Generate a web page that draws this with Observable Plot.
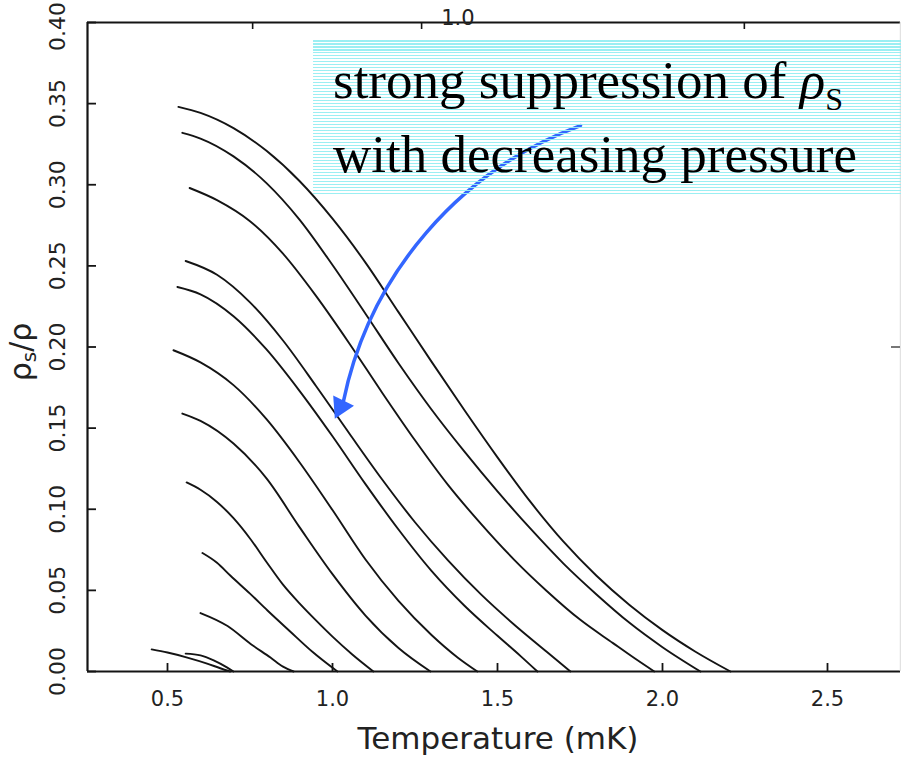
<!DOCTYPE html>
<html><head><meta charset="utf-8">
<script src="https://cdn.jsdelivr.net/npm/d3@7"></script>
<script src="https://cdn.jsdelivr.net/npm/@observablehq/plot@0.6"></script>
<style>
html,body{margin:0;padding:0;background:#fff;}
#wrap{position:relative;width:901px;height:757px;overflow:hidden;}
#note{position:absolute;left:313px;top:40px;width:588px;height:156px;
 background:repeating-linear-gradient(to bottom, rgba(150,238,242,0.95) 0px, rgba(150,238,242,0.95) 1.5px, transparent 1.5px, transparent 3px);
 font-family:"Liberation Serif","Times New Roman",serif;font-size:53px;color:#000;}
#note .ln{position:absolute;left:20px;line-height:48px;white-space:nowrap;}
#note .sub{font-size:32px;vertical-align:-12px;}
</style>
</head><body>
<div id="wrap"><div id="chart"></div>
<div id="note"><div class="ln" style="top:16px">strong suppression of <i>ρ</i><span class="sub">S</span></div>
<div class="ln" style="top:90px">with decreasing pressure</div></div>
</div>
<script>
// tick values
const xTicks = [0.5, 1.0, 1.5, 2.0, 2.5];
const yTicks = [0.00, 0.05, 0.10, 0.15, 0.20, 0.25, 0.30, 0.35, 0.40];
const xLabel = "Temperature (mK)";
const topTicks = [0.758, 1.27, 2.248];   // ticks of the cropped upper panel
const topLabel = [{x: 1.38, text: "1.0"}];

// curves: [temperature (mK), rho_s/rho], highest pressure first
const curve1 = [[0.533,0.348],[0.6,0.3443],[0.7,0.3349],[0.8,0.3209],[0.9,0.3023],[1.0,0.2791],[1.1,0.252],[1.2,0.2215],[1.3,0.191],[1.4,0.161],[1.5,0.132],[1.6,0.1045],[1.7,0.080],[1.8,0.059],[1.9,0.041],[2.0,0.0255],[2.1,0.0122],[2.206,0]];
const curve2 = [[0.545,0.332],[0.6,0.3285],[0.7,0.3175],[0.8,0.301],[0.9,0.2785],[1.0,0.2505],[1.1,0.2205],[1.2,0.190],[1.3,0.1615],[1.4,0.1355],[1.5,0.111],[1.6,0.088],[1.7,0.0665],[1.8,0.0475],[1.9,0.030],[2.0,0.015],[2.115,0]];
const curve3 = [[0.567,0.298],[0.65,0.2905],[0.75,0.2775],[0.85,0.2575],[0.95,0.2315],[1.05,0.2025],[1.15,0.172],[1.25,0.1425],[1.35,0.115],[1.45,0.091],[1.55,0.069],[1.65,0.0495],[1.75,0.032],[1.85,0.0175],[1.92,0.0075],[1.975,0]];
const curve4 = [[0.555,0.253],[0.65,0.2445],[0.75,0.2275],[0.85,0.204],[0.95,0.176],[1.05,0.147],[1.15,0.1185],[1.25,0.092],[1.35,0.0685],[1.45,0.0475],[1.55,0.029],[1.65,0.012],[1.721,0]];
const curve5 = [[0.530,0.237],[0.6,0.2325],[0.7,0.219],[0.8,0.1985],[0.9,0.173],[1.0,0.145],[1.1,0.1155],[1.2,0.0875],[1.3,0.062],[1.4,0.0405],[1.5,0.022],[1.57,0.0095],[1.621,0]];
const curve6 = [[0.518,0.198],[0.6,0.1905],[0.7,0.1765],[0.8,0.1555],[0.9,0.129],[1.0,0.0995],[1.1,0.069],[1.2,0.0435],[1.3,0.0225],[1.38,0.0085],[1.439,0]];
const curve7 = [[0.545,0.159],[0.6,0.1545],[0.7,0.1405],[0.8,0.119],[0.9,0.089],[1.0,0.060],[1.1,0.0345],[1.2,0.0145],[1.297,0]];
const curve8 = [[0.558,0.1165],[0.6,0.112],[0.65,0.1045],[0.7,0.0945],[0.75,0.082],[0.8,0.0675],[0.85,0.0535],[0.9,0.042],[0.95,0.0315],[1.0,0.0215],[1.06,0.0105],[1.124,0]];
const curve9 = [[0.606,0.073],[0.65,0.067],[0.691,0.059],[0.75,0.048],[0.803,0.0376],[0.87,0.025],[0.94,0.012],[1.015,0]];
const curve10 = [[0.600,0.036],[0.682,0.028],[0.752,0.017],[0.812,0.0086],[0.85,0.003],[0.882,0]];
const curve11 = [[0.452,0.0136],[0.50,0.0117],[0.56,0.0086],[0.62,0.0049],[0.66,0.002],[0.69,0]];
const curve12 = [[0.555,0.011],[0.60,0.0099],[0.64,0.0068],[0.68,0.0025],[0.70,0]];
const curves = [curve1,curve2,curve3,curve4,curve5,curve6,curve7,curve8,curve9,curve10,curve11,curve12];

// annotation arrow (data coordinates): start, end of shaft, head centre
const arrowStart = [1.7515, 0.3365];
const arrowEnd = [1.0333, 0.1667];
const arrowHead = [1.0248, 0.1632];

const W = 901, H = 757;
const mL = 87, mR = 1, mT = 22, mB = 86;
const pw = W - mL - mR, ph = H - mT - mB;
const ink = "#141414";
const tickFont = "'DejaVu Sans', sans-serif";

const rows = curves.flatMap((c, i) => c.map(([T, r]) => ({T, r, id: i})));
const yMax = yTicks[yTicks.length - 1];

const plot = Plot.plot({
  width: W, height: H,
  marginLeft: mL, marginRight: mR, marginTop: mT, marginBottom: mB,
  x: {domain: [0.5 - 80/330, 0.5 + 733/330], axis: null},
  y: {domain: [0, 0.4], axis: null},
  style: {background: "#fff", overflow: "visible"},
  marks: [
    Plot.line(rows, {x: "T", y: "r", z: "id", stroke: ink, strokeWidth: 1.9, curve: "monotone-x"}),
    Plot.arrow([{}], {x1: () => arrowStart[0], y1: () => arrowStart[1], x2: () => arrowEnd[0], y2: () => arrowEnd[1],
      bend: -29, headLength: 0, stroke: "#3366ff", strokeWidth: 3.5}),
    Plot.dot([{}], {x: () => arrowHead[0], y: () => arrowHead[1], symbol: "triangle", r: 8.6, fill: "#3366ff", stroke: "none", rotate: 206}),
    // frame
    Plot.ruleY([0], {stroke: ink, strokeWidth: 2.2}),
    Plot.ruleY([0.4], {stroke: ink, strokeWidth: 2}),
    Plot.ruleX([0.5 - 80/330], {stroke: ink, strokeWidth: 2.2}),
    Plot.ruleX([0.5 + 733/330], {stroke: "#e2e2e2", strokeWidth: 1.5}),
    // inward ticks
    Plot.tickY(yTicks, {y: d => d, insetRight: pw - 9, stroke: ink, strokeWidth: 1.8}),
    Plot.tickY([0.2], {y: d => d, insetLeft: pw - 9, stroke: "#777", strokeWidth: 2}),
    Plot.tickX(xTicks, {x: d => d, insetTop: ph - 8, stroke: ink, strokeWidth: 1.8}),
    Plot.tickX(topTicks, {x: d => d, insetBottom: ph - 7, stroke: ink, strokeWidth: 1.6}),
    // tick labels
    Plot.text(xTicks, {x: d => d, text: d => d.toFixed(1), frameAnchor: "bottom", dy: 34,
      fontSize: 21, fontFamily: tickFont, fill: "#222"}),
    Plot.text(yTicks.filter(d => d < yMax), {y: d => d, text: d => d.toFixed(2), frameAnchor: "left", dx: -30, rotate: -90,
      textAnchor: "middle", fontSize: 22, fontFamily: tickFont, fill: "#222"}),
    Plot.text([yMax], {y: d => d, text: d => d.toFixed(2), frameAnchor: "left", dx: -30, dy: 4, rotate: -90,
      textAnchor: "middle", fontSize: 22, fontFamily: tickFont, fill: "#222"}),
    Plot.text(topLabel, {x: "x", text: "text", frameAnchor: "top", dy: -12, fontSize: 21, fontFamily: tickFont, fill: "#222"}),
    Plot.text([xLabel], {text: d => d, frameAnchor: "bottom", dx: 4, dy: 77, fontSize: 31, fontFamily: tickFont, fill: "#222"})
  ]
});
document.getElementById("chart").appendChild(plot);

// y axis title with subscript
const svg = d3.select(plot);
const t = svg.append("text")
  .attr("transform", "translate(31,352) rotate(-90)")
  .attr("text-anchor", "middle")
  .attr("font-family", "DejaVu Sans, sans-serif")
  .attr("font-size", 30).attr("fill", "#222");
t.append("tspan").text("ρ");
t.append("tspan").attr("font-size", 20).attr("dy", 5).text("s");
t.append("tspan").attr("dy", -5).text("/ρ");
</script>
</body></html>
